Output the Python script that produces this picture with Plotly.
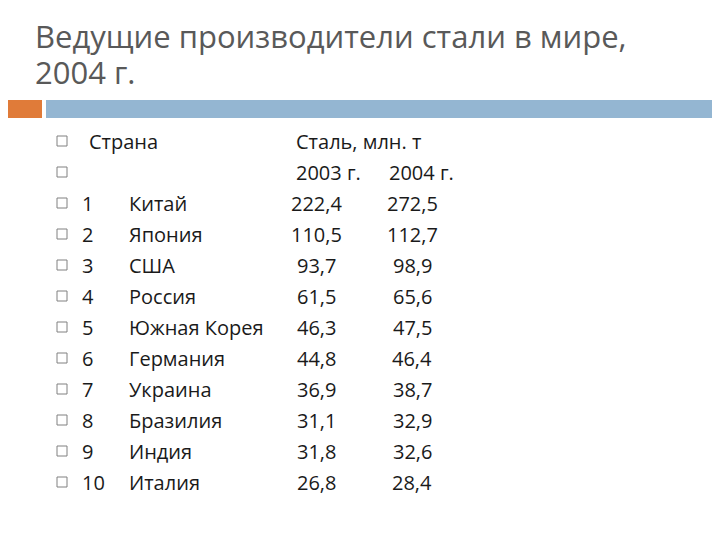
import plotly.graph_objects as go

title_lines = ["Ведущие производители стали в мире,", "2004 г."]
ranks = ["1", "2", "3", "4", "5", "6", "7", "8", "9", "10"]
countries = ["Китай", "Япония", "США", "Россия", "Южная Корея", "Германия",
             "Украина", "Бразилия", "Индия", "Италия"]
steel_2003 = ["222,4", "110,5", "93,7", "61,5", "46,3", "44,8", "36,9", "31,1", "31,8", "26,8"]
steel_2004 = ["272,5", "112,7", "98,9", "65,6", "47,5", "46,4", "38,7", "32,9", "32,6", "28,4"]

FONT = "Open Sans, DejaVu Sans, sans-serif"
TXT = "#1a1a1a"
fig = go.Figure()
ann = []
def t(x, y, s, anchor="left", size=20, color=TXT):
    ann.append(dict(x=x, y=y, text=s, showarrow=False, xanchor=anchor, yanchor="middle",
                    font=dict(family=FONT, size=size, color=color)))

t(33, 36, title_lines[0], size=31, color="#595959")
t(33, 72, title_lines[1], size=31, color="#595959")

row_y = [141 + 31 * i for i in range(12)]
bx = [62] * 12
fig.add_trace(go.Scatter(x=bx, y=row_y, mode="markers",
                         marker=dict(symbol="square-open", size=10, color="#808080",
                                     line=dict(width=1)), hoverinfo="skip"))
t(87, row_y[0], "Страна")
t(294, row_y[0], "Сталь, млн. т")
t(294, row_y[1], "2003 г.")
t(387, row_y[1], "2004 г.")
for i in range(10):
    y = row_y[i + 2]
    t(80, y, ranks[i])
    t(127, y, countries[i])
    t(316, y, steel_2003[i], "center")
    t(412, y, steel_2004[i], "center")

O = 8  # page body margin offset
fig.update_layout(
    width=720, height=540, margin=dict(l=0, r=0, t=0, b=0),
    paper_bgcolor="white", plot_bgcolor="white", showlegend=False,
    xaxis=dict(range=[O, 720 + O], visible=False, fixedrange=True),
    yaxis=dict(range=[540 + O, O], visible=False, fixedrange=True),
    annotations=ann,
    shapes=[
        dict(type="rect", x0=0, x1=42, y0=100, y1=118, fillcolor="#E07B39", line_width=0, layer="below"),
        dict(type="rect", x0=46, x1=740, y0=100, y1=118, fillcolor="#94B6D2", line_width=0, layer="below"),
    ],
)
fig.write_html("out.html")
